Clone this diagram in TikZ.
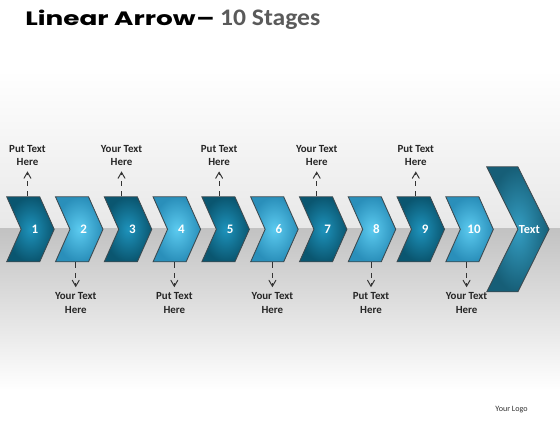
\documentclass[tikz,border=0pt]{standalone}
\usepackage{fontspec}
\setmainfont{Carlito}
\newfontfamily\titlefont{Poppins}
\usepackage{tikz}
\usetikzlibrary{arrows,positioning,shapes.symbols,chains}
\definecolor{darkteal}{HTML}{0A5670}
\definecolor{midteal}{HTML}{1E93BC}
\definecolor{paleteal}{HTML}{2A8FBA}
\definecolor{lightteal}{HTML}{5CCBF0}
\definecolor{edgegray}{HTML}{3C4A50}
\definecolor{subgray}{HTML}{5A5A5A}
% text pushed to the right inside a chevron, without widening it
\newcommand{\nudged}[2]{\makebox[0pt]{\hspace*{#1}#2}}

\begin{document}
\begin{tikzpicture}[
	start chain=1 going right,
	node distance=2.96mm,
	chevron/.style={
		shape=signal,
		signal to=east,
		signal from=west,
		signal pointer angle=132,
		minimum width=9.5mm,
		minimum height=13mm,
		inner sep=0pt,
		draw=edgegray,
		line width=0.5pt,
		shading=radial,
		text=white,
		font=\bfseries\fontsize{7.4}{8}\selectfont
		},
	stage/.style={
		chevron,
		on chain=1
	},
	odd/.style={
		inner color=midteal,
		outer color=darkteal
	},
	even/.style={
		inner color=lightteal,
		outer color=paleteal
	},
	note/.style={
		align=center,
		inner sep=1mm,
		font=\bfseries\fontsize{6.2}{7.9}\selectfont,
		text=black!85
	},
	pointer/.style={
		->,
		>=angle 60,
		dashed,
		line width=0.55pt,
		black!80
	}
]

% Background
\shade [top color=white, bottom color=black!9] (0,-14mm) rectangle (112mm,-45.6mm);
\fill [white] (0,0) rectangle (112mm,-14mm);
\shade [top color=black!24, bottom color=white] (0,-45.6mm) rectangle (112mm,-78mm);
\fill [white] (0,-78mm) rectangle (112mm,-84mm);
\useasboundingbox (0,0) rectangle (112mm,-84mm);

% Title
\node [anchor=base west, inner sep=0pt] (Title) at (5mm,-5.1mm)
	{\scalebox{1.36}[1]{\titlefont\bfseries\fontsize{11}{12}\selectfont Linear Arrow\kern0.3pt–}\hspace{1.1mm}%
	 \scalebox{1.08}[1]{\bfseries\fontsize{13.5}{14}\selectfont\color{subgray}10 Stages}};

% Stages
\node [stage, odd] at (6.09mm,-45.86mm) (Stage 1) {\nudged{1.8mm}{1}};
\node [stage, even] (Stage 2) {\nudged{1.8mm}{2}};
\node [stage, odd] (Stage 3) {\nudged{1.8mm}{3}};
\node [stage, even] (Stage 4) {\nudged{1.8mm}{4}};
\node [stage, odd] (Stage 5) {\nudged{1.8mm}{5}};
\node [stage, even] (Stage 6) {\nudged{1.8mm}{6}};
\node [stage, odd] (Stage 7) {\nudged{1.8mm}{7}};
\node [stage, even] (Stage 8) {\nudged{1.8mm}{8}};
\node [stage, odd] (Stage 9) {\nudged{1.8mm}{9}};
\node [stage, even] (Stage 10) {\nudged{1.8mm}{10}};
\node [chevron, right=4.72mm of Stage 10, minimum width=12.4mm, minimum height=25mm,
	signal pointer angle=127, inner color=midteal!90, outer color=darkteal!95!white,
	font=\bfseries\fontsize{7}{8}\selectfont] (Final) {\nudged{4.6mm}{Text}};

% Notes above
\node [note, above=5mm of Stage 1.north, xshift=-0.6mm] (Note 1) {Put Text\\Here};
\node [note, above=5mm of Stage 3.north, xshift=-1.3mm] (Note 3) {Your Text\\Here};
\node [note, above=5mm of Stage 5.north, xshift=-1.3mm] (Note 5) {Put Text\\Here};
\node [note, above=5mm of Stage 7.north, xshift=-1.3mm] (Note 7) {Your Text\\Here};
\node [note, above=5mm of Stage 9.north, xshift=-1mm] (Note 9) {Put Text\\Here};

% Notes below
\node [note, below=5mm of Stage 2.south, xshift=-0.7mm] (Note 2) {Your Text\\Here};
\node [note, below=5mm of Stage 4.south, xshift=-0.5mm] (Note 4) {Put Text\\Here};
\node [note, below=5mm of Stage 6.south, xshift=-0.4mm] (Note 6) {Your Text\\Here};
\node [note, below=5mm of Stage 8.south, xshift=-0.2mm] (Note 8) {Put Text\\Here};
\node [note, below=5mm of Stage 10.south, xshift=-0.6mm] (Note 10) {Your Text\\Here};

% Pointers
\draw [pointer] (Note 1.south |- Stage 1.north) -- (Note 1.south);
\draw [pointer] (Note 3.south |- Stage 3.north) -- (Note 3.south);
\draw [pointer] (Note 5.south |- Stage 5.north) -- (Note 5.south);
\draw [pointer] (Note 7.south |- Stage 7.north) -- (Note 7.south);
\draw [pointer] (Note 9.south |- Stage 9.north) -- (Note 9.south);
\draw [pointer] (Note 2.north |- Stage 2.south) -- (Note 2.north);
\draw [pointer] (Note 4.north |- Stage 4.south) -- (Note 4.north);
\draw [pointer] (Note 6.north |- Stage 6.south) -- (Note 6.north);
\draw [pointer] (Note 8.north |- Stage 8.south) -- (Note 8.north);
\draw [pointer] (Note 10.north |- Stage 10.south) -- (Note 10.north);

% Logo
\node [anchor=base east, inner sep=0pt, font=\fontsize{4.6}{5}\selectfont, text=black!80] (Logo) at (105.6mm,-82.2mm) {Your Logo};

\end{tikzpicture}
\end{document}
